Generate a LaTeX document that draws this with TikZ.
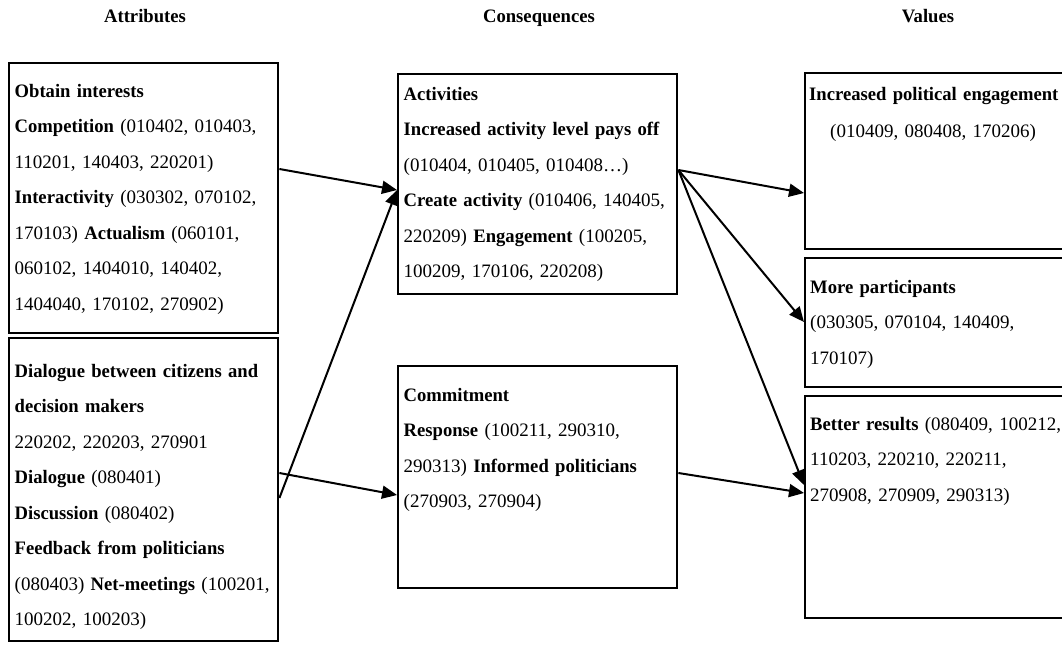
\documentclass[tikz,border=0pt]{standalone}
\usepackage{fontspec}
\setmainfont{Liberation Serif}[BoldFeatures={FakeStretch=0.98}]
\usetikzlibrary{positioning, arrows, arrows.meta}

\newcommand{\figfont}{\fontsize{9.5pt}{17.75pt}\selectfont}

\tikzset{
    cell/.style={draw, line width=1.2pt, anchor=north west, align=left, inner xsep=2.75pt, inner ysep=0pt, font=\figfont},
    head/.style={anchor=base, font=\figfont\bfseries},
    flow/.style={-{Triangle[length=7.5pt, width=6.5pt]}, line width=1pt}
}

\begin{document}
\begin{tikzpicture}[x=0.5pt, y=-0.5pt]
        \useasboundingbox (0,0) rectangle (1062,648);

        \node[head] (hAttr) at (145,23) {Attributes};
        \node[head] (hCons) at (539,23) {Consequences};
        \node[head] (hVal) at (928,23) {Values};

        \node[cell, text width=129pt, text height=17pt, text depth=118pt] (attrA) at (8,62) {\textbf{Obtain interests}\\
            \textbf{Competition} (010402, 010403,\\
            110201, 140403, 220201)\\
            \textbf{Interactivity} (030302, 070102,\\
            170103) \textbf{Actualism} (060101,\\
            060102, 1404010, 140402,\\
            1404040, 170102, 270902)};
        \node[cell, text width=129pt, text height=19.5pt, text depth=132pt] (attrB) at (8,337) {\textbf{Dialogue between citizens and}\\
            \textbf{decision makers}\\
            220202, 220203, 270901\\
            \textbf{Dialogue} (080401)\\
            \textbf{Discussion} (080402)\\
            \textbf{Feedback from politicians}\\
            \mbox{(080403) \textbf{Net-meetings} (100201,}\\
            100202, 100203)};

        \node[cell, text width=134pt, text height=13pt, text depth=97pt] (consA) at (397,73) {\textbf{Activities}\\
            \textbf{Increased activity level pays off}\\
            (010404, 010405, 010408…)\\
            \textbf{Create activity} (010406, 140405,\\
            220209) \textbf{Engagement} (100205,\\
            100209, 170106, 220208)};
        \node[cell, text width=134pt, text height=17.5pt, text depth=93.5pt] (consB) at (397,365) {\textbf{Commitment}\\
            \textbf{Response} (100211, 290310,\\
            290313) \textbf{Informed politicians}\\
            (270903, 270904)};

        \node[cell, inner xsep=2pt, text width=134pt, text height=13.5pt, text depth=74.5pt] (valA) at (804,72) {\textbf{Increased political engagement}\\[1pt]
            \hspace*{10.5pt}(010409, 080408, 170206)};
        \node[cell, inner xsep=2.5pt, text width=133pt, text height=17.5pt, text depth=47pt] (valB) at (804,257) {\textbf{More participants}\\
            (030305, 070104, 140409,\\
            170107)};
        \node[cell, inner xsep=2.5pt, text width=133pt, text height=17pt, text depth=94pt] (valC) at (804,395) {\textbf{Better results} (080409, 100212,\\
            110203, 220210, 220211,\\
            270908, 270909, 290313)};

        \coordinate (consAin) at (consA.west |- 0,190);
        \coordinate (consAout) at (consA.east |- 0,170);

        \draw[flow] (attrA.east |- 0,169) -- (consAin);
        \draw[flow] (attrB.east |- 0,498) -- (consAin);
        \draw[flow] (attrB.east |- 0,473) -- (consB.west |- 0,495);
        \draw[flow] (consAout) -- (valA.west |- 0,193);
        \draw[flow] (consAout) -- (valB.west |- 0,322);
        \draw[flow] (consAout) -- (valC.west |- 0,485);
        \draw[flow] (consB.east |- 0,473) -- (valC.west |- 0,493);
    \end{tikzpicture}
\end{document}
